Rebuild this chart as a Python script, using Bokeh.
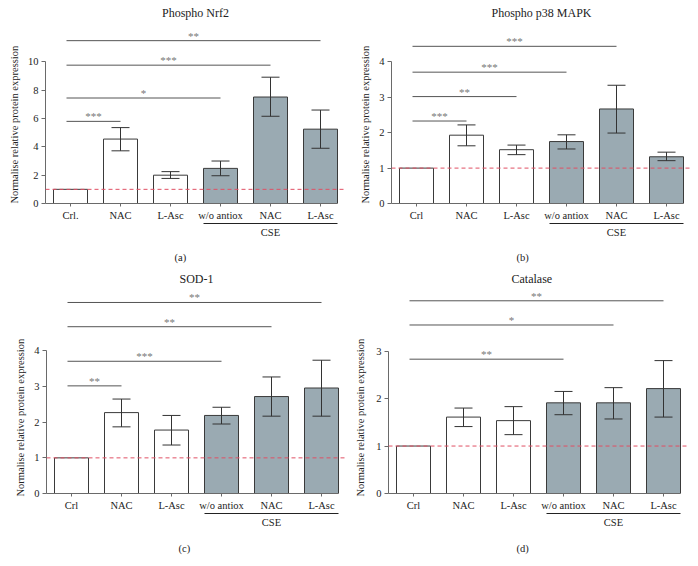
from bokeh.plotting import figure
from bokeh.models import (Range1d, FixedTicker, LinearAxis, Title, Whisker, TeeHead,
                          ColumnDataSource, Span)
from bokeh.layouts import column, row
from bokeh.embed import file_html
from bokeh.resources import INLINE
from bokeh.core.properties import value

FONT = "Liberation Serif"
CSE_FILL = "#9aaab2"
EDGE = "#3a3a3a"
AXIS = "#6a6a6a"
TXT = "#222222"

# ---------------- data ----------------
labels_a = ["Crl.", "NAC", "L-Asc", "w/o antiox", "NAC", "L-Asc"]
labels_bcd = ["Crl", "NAC", "L-Asc", "w/o antiox", "NAC", "L-Asc"]
is_cse = [0, 0, 0, 1, 1, 1]
group_label = "CSE"
y_title = "Normalise relative protein expression"

nrf2_mean = [1.0, 4.55, 2.0, 2.48, 7.52, 5.25]
nrf2_low = [1.0, 3.72, 1.77, 1.96, 6.16, 3.9]
nrf2_high = [1.0, 5.36, 2.25, 3.0, 8.92, 6.6]
nrf2_sig_to = [1, 3, 4, 5]
nrf2_sig_y = [5.8, 7.45, 9.77, 11.5]
nrf2_sig_txt = ["***", "*", "***", "**"]
nrf2_yticks = [0, 2, 4, 6, 8, 10]

p38_mean = [1.0, 1.93, 1.52, 1.75, 2.67, 1.32]
p38_low = [1.0, 1.63, 1.38, 1.54, 1.99, 1.21]
p38_high = [1.0, 2.22, 1.65, 1.94, 3.34, 1.45]
p38_sig_to = [1, 2, 3, 4]
p38_sig_y = [2.33, 3.02, 3.71, 4.44]
p38_sig_txt = ["***", "**", "***", "***"]
p38_yticks = [0, 1, 2, 3, 4]

sod_mean = [1.0, 2.27, 1.78, 2.19, 2.72, 2.96]
sod_low = [1.0, 1.87, 1.36, 1.95, 2.17, 2.17]
sod_high = [1.0, 2.65, 2.19, 2.42, 3.27, 3.74]
sod_sig_to = [1, 3, 4, 5]
sod_sig_y = [3.02, 3.71, 4.68, 5.36]
sod_sig_txt = ["**", "***", "**", "**"]
sod_yticks = [0, 1, 2, 3, 4]

cat_mean = [1.0, 1.61, 1.535, 1.91, 1.91, 2.21]
cat_low = [1.0, 1.41, 1.24, 1.66, 1.57, 1.61]
cat_high = [1.0, 1.80, 1.83, 2.15, 2.23, 2.80]
cat_sig_to = [3, 4, 5]
cat_sig_y = [2.83, 3.55, 4.06]
cat_sig_txt = ["**", "*", "**"]
cat_yticks = [0, 1, 2, 3]


def panel(title, caption, labels, mean, low, high, sig_to, sig_y, sig_txt, yticks,
          ytop, width, height, borders, title_standoff, title_align, title_offset,
          ylab_standoff, ylab_offset, cap_standoff, cap_offset):
    bl, br, bt, bb = borders
    n = len(labels)
    x = list(range(n))
    p = figure(width=width, height=height,
               x_range=Range1d(-0.5, n - 0.5), y_range=Range1d(0, ytop),
               x_axis_type=None, y_axis_type=None,
               output_backend="svg", toolbar_location=None,
               min_border_left=bl, min_border_right=br,
               min_border_top=bt, min_border_bottom=bb)
    p.outline_line_color = None
    p.grid.visible = False
    p.background_fill_color = "white"
    p.border_fill_color = "white"

    p.title.text = title
    p.title.align = title_align
    p.title.offset = title_offset
    p.title.vertical_align = "top"
    p.title.text_font = FONT
    p.title.text_font_style = "normal"
    p.title.text_font_size = "12px"
    p.title.text_color = TXT
    p.title.standoff = title_standoff

    half = 0.34
    yax = LinearAxis(ticker=FixedTicker(ticks=yticks), bounds=(0, yticks[-1]))
    yax.axis_line_color = AXIS
    yax.major_tick_line_color = AXIS
    yax.major_tick_out = 4
    yax.major_tick_in = 0
    yax.minor_tick_line_color = None
    yax.major_label_standoff = 3
    yax.major_label_text_font = FONT
    yax.major_label_text_font_size = "10.5px"
    yax.major_label_text_color = TXT
    p.add_layout(yax, "left")

    ylab = Title(text=y_title, align="left", vertical_align="top",
                 text_font=FONT, text_font_size="10.5px", text_font_style="normal",
                 text_color=TXT, standoff=ylab_standoff, offset=ylab_offset)
    p.add_layout(ylab, "left")

    xax = LinearAxis(ticker=FixedTicker(ticks=x), bounds=(-0.5, n - 1 + half),
                     major_label_overrides={i: lab for i, lab in enumerate(labels)})
    xax.axis_line_color = AXIS
    xax.major_tick_line_color = AXIS
    xax.major_tick_out = 3
    xax.major_tick_in = 0
    xax.minor_tick_line_color = None
    xax.major_label_standoff = 3
    xax.major_label_text_font = FONT
    xax.major_label_text_font_size = "10.5px"
    xax.major_label_text_color = TXT
    p.add_layout(xax, "below")

    cse_idx = [i for i in x if is_cse[i]]
    cse_mid = (cse_idx[0] + cse_idx[-1]) / 2
    gax = LinearAxis(ticker=FixedTicker(ticks=[cse_mid]),
                     bounds=(cse_idx[0] - half, cse_idx[-1] + half),
                     major_label_overrides={cse_mid: group_label})
    gax.axis_line_color = TXT
    gax.major_tick_out = 0
    gax.major_tick_in = 0
    gax.major_tick_line_color = None
    gax.minor_tick_line_color = None
    gax.major_label_standoff = 3
    gax.major_label_text_font = FONT
    gax.major_label_text_font_size = "10.5px"
    gax.major_label_text_color = TXT
    p.add_layout(gax, "below")

    cap = Title(text=caption, align="left", text_font=FONT, text_font_size="10.5px",
                text_font_style="normal", text_color=TXT,
                standoff=cap_standoff, offset=cap_offset)
    p.add_layout(cap, "below")

    fills = [CSE_FILL if c else "white" for c in is_cse]
    src = ColumnDataSource(dict(x=x, top=mean, fill=fills))
    p.vbar(x="x", top="top", width=2 * half, bottom=0, source=src,
           fill_color="fill", line_color=EDGE, line_width=1)

    keep = [i for i in x if high[i] > low[i]]
    esrc = ColumnDataSource(dict(x=[x[i] for i in keep],
                                 lo=[low[i] for i in keep],
                                 hi=[high[i] for i in keep]))
    wh = Whisker(source=esrc, base="x", lower="lo", upper="hi",
                 line_color="#333333", line_width=1, level="annotation",
                 upper_head=TeeHead(size=18, line_color="#333333", line_width=1),
                 lower_head=TeeHead(size=18, line_color="#333333", line_width=1))
    p.add_layout(wh)

    p.add_layout(Span(location=1, dimension="width", line_color="#e05064",
                      line_dash="4 3", line_width=1, level="annotation"))

    x0 = [-0.08] * len(sig_to)
    ssrc = ColumnDataSource(dict(x0=x0, x1=sig_to, y=sig_y, t=sig_txt,
                                 xm=[(a + b) / 2 for a, b in zip(x0, sig_to)]))
    p.segment(x0="x0", y0="y", x1="x1", y1="y", source=ssrc,
              line_color="#555555", line_width=1)
    p.text(x="xm", y="y", text="t", source=ssrc, text_align="center",
           text_baseline="bottom", text_font=value(FONT), text_font_size="11px",
           text_color="#777777", y_offset=1)
    return p


pa = panel("Phospho Nrf2", "(a)", labels_a, nrf2_mean, nrf2_low, nrf2_high,
           nrf2_sig_to, nrf2_sig_y, nrf2_sig_txt, nrf2_yticks, 12.5,
           349, 271, (45, 4, 24, 66), 10, "center", 0, 6, 0, 18, 129)
pb = panel("Phospho p38 MAPK", "(b)", labels_bcd, p38_mean, p38_low, p38_high,
           p38_sig_to, p38_sig_y, p38_sig_txt, p38_yticks, 5.0,
           349, 271, (42, 7, 24, 66), 10, "center", 0, 8, 0, 18, 125)
pc = panel("SOD-1", "(c)", labels_bcd, sod_mean, sod_low, sod_high,
           sod_sig_to, sod_sig_y, sod_sig_txt, sod_yticks, 5.78,
           349, 293, (46, 3, 16, 71), 0, "center", 0, 8, -3, 20, 132)
pd_ = panel("Catalase", "(d)", labels_bcd, cat_mean, cat_low, cat_high,
            cat_sig_to, cat_sig_y, cat_sig_txt, cat_yticks, 4.34,
            349, 293, (39, 10, 16, 71), 0, "left", 123, 11, -3, 20, 128)

layout = column(row(pa, pb), row(pc, pd_))
open("out.html", "w").write(file_html(layout, INLINE))
